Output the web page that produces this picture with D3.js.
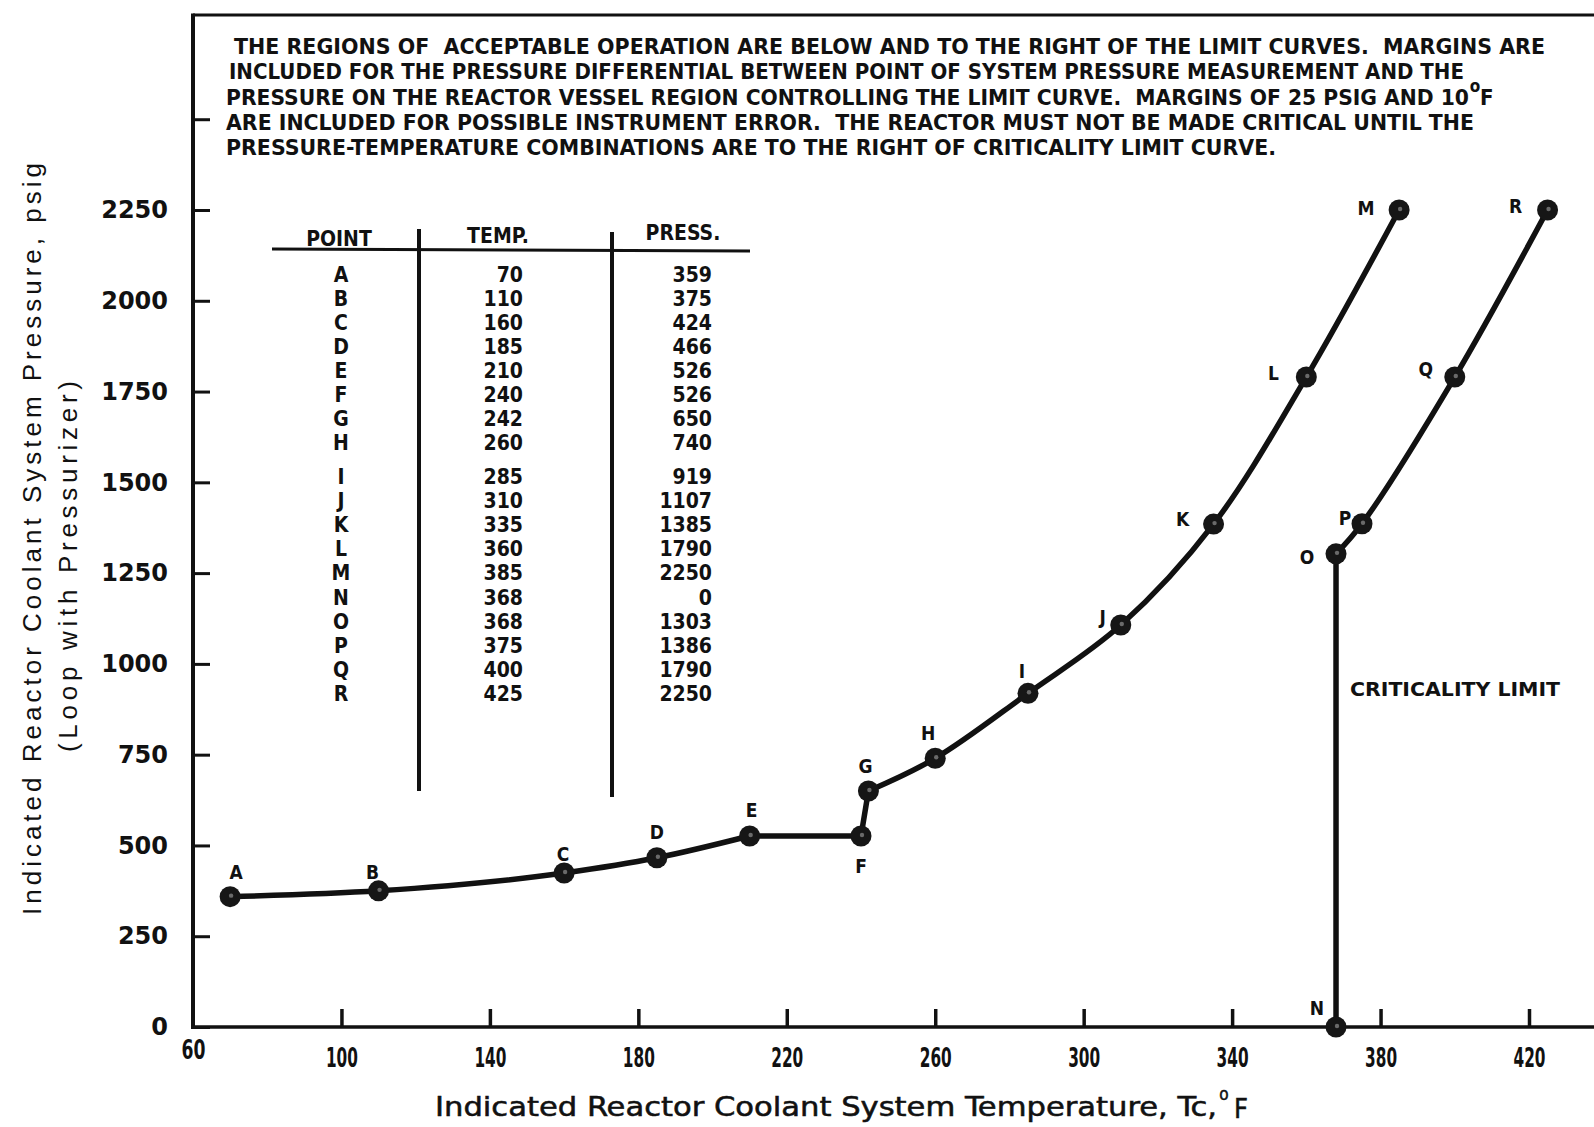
<!DOCTYPE html>
<html>
<head>
<meta charset="utf-8">
<script src="https://cdn.jsdelivr.net/npm/d3@7"></script>
<style>
  html, body { margin: 0; padding: 0; background: #fff; }
  svg { display: block; }
  text { fill: #111; white-space: pre; }
  .cond { font-family: 'DejaVu Sans Condensed', 'DejaVu Sans', sans-serif; font-stretch: condensed; }
</style>
</head>
<body>
<div class="chart-wrapper"></div>
<script>
// point table (as printed on the chart)
const pointNames = ["A","B","C","D","E","F","G","H","I","J","K","L","M","N","O","P","Q","R"];
const temps      = [70,110,160,185,210,240,242,260,285,310,335,360,385,368,368,375,400,425];
const pressures  = [359,375,424,466,526,526,650,740,919,1107,1385,1790,2250,0,1303,1386,1790,2250];

// curve pieces: smooth runs and straight legs
const heatupSmooth1 = ["A","B","C","D","E"];
const heatupStraight = ["E","F","G"];
const heatupSmooth2 = ["G","H","I","J","K","L","M"];
const critStraight = ["N","O"];
const critSmooth = ["O","P","Q","R"];

const xTicks = [60,100,140,180,220,260,300,340,380,420];
const yTicks = [0,250,500,750,1000,1250,1500,1750,2000,2250,2500];
const yTickLabels = ["0","250","500","750","1000","1250","1500","1750","2000","2250",""];

const noteLines = [
  "THE REGIONS OF  ACCEPTABLE OPERATION ARE BELOW AND TO THE RIGHT OF THE LIMIT CURVES.  MARGINS ARE",
  "INCLUDED FOR THE PRESSURE DIFFERENTIAL BETWEEN POINT OF SYSTEM PRESSURE MEASUREMENT AND THE",
  "PRESSURE ON THE REACTOR VESSEL REGION CONTROLLING THE LIMIT CURVE.  MARGINS OF 25 PSIG AND 10",
  "ARE INCLUDED FOR POSSIBLE INSTRUMENT ERROR.  THE REACTOR MUST NOT BE MADE CRITICAL UNTIL THE",
  "PRESSURE-TEMPERATURE COMBINATIONS ARE TO THE RIGHT OF CRITICALITY LIMIT CURVE."
];
const tableHeaders = ["POINT", "TEMP.", "PRESS."];

// lookup
const points = pointNames.map((n, i) => ({ name: n, temp: temps[i], press: pressures[i] }));
const byName = Object.fromEntries(points.map(p => [p.name, p]));

const width = 1594, height = 1127;
const svg = d3.select(".chart-wrapper").append("svg")
  .attr("width", width)
  .attr("height", height);

const x = d3.scaleLinear().domain([60, 420]).range([193, 1529]);
const y = d3.scaleLinear().domain([0, 2250]).range([1027, 210]);
const plotTop = 15;

// frame: top line, left axis, bottom axis
svg.append("line")
  .attr("x1", x(60)).attr("x2", width)
  .attr("y1", plotTop).attr("y2", plotTop)
  .attr("stroke", "#111").attr("stroke-width", 3);
svg.append("line")
  .attr("x1", x(60)).attr("x2", x(60))
  .attr("y1", plotTop - 1.5).attr("y2", y(0) + 2)
  .attr("stroke", "#111").attr("stroke-width", 4);
svg.append("line")
  .attr("x1", x(60) - 2).attr("x2", width)
  .attr("y1", y(0)).attr("y2", y(0))
  .attr("stroke", "#111").attr("stroke-width", 3.5);

// y axis, ticks pointing inward
const yAxis = d3.axisLeft(y)
  .tickValues(yTicks)
  .tickFormat((d, i) => yTickLabels[i])
  .tickSizeInner(-17)
  .tickSizeOuter(0)
  .tickPadding(25);
const gy = svg.append("g")
  .attr("transform", `translate(${x(60)},0)`)
  .call(yAxis);
gy.select(".domain").remove();
gy.selectAll(".tick line").attr("stroke", "#111").attr("stroke-width", 3);
gy.selectAll(".tick text")
  .attr("fill", "#111")
  .style("font-family", "'DejaVu Sans', sans-serif")
  .style("font-weight", "bold")
  .style("font-size", "24px");

// x axis, ticks pointing inward
const xAxis = d3.axisBottom(x)
  .tickValues(xTicks)
  .tickFormat(d3.format("d"))
  .tickSizeInner(-18)
  .tickSizeOuter(0)
  .tickPadding(21);
const gx = svg.append("g")
  .attr("transform", `translate(0,${y(0)})`)
  .call(xAxis);
gx.select(".domain").remove();
gx.selectAll(".tick line")
  .attr("stroke", "#111").attr("stroke-width", 3.5)
  .attr("display", d => d === 60 ? "none" : null);
gx.selectAll(".tick text")
  .attr("class", "cond")
  .attr("fill", "#111")
  .attr("textLength", d => String(d).length === 3 ? 32 : 24)
  .attr("lengthAdjust", "spacingAndGlyphs")
  .attr("dy", d => d === 60 ? "0.4em" : "0.71em")
  .style("font-weight", "bold")
  .style("font-size", "27px");

// axis titles
svg.append("text")
  .attr("class", "cond")
  .attr("x", 435).attr("y", 1116)
  .attr("textLength", 782)
  .attr("lengthAdjust", "spacingAndGlyphs")
  .style("font-size", "27px")
  .style("stroke", "#111").style("stroke-width", 0.5)
  .text("Indicated Reactor Coolant System Temperature, Tc,");
svg.append("text")
  .attr("class", "cond")
  .attr("x", 1224).attr("y", 1100)
  .attr("text-anchor", "middle")
  .style("font-size", "17px")
  .style("stroke", "#111").style("stroke-width", 0.5)
  .text("o");
svg.append("text")
  .attr("class", "cond")
  .attr("x", 1234).attr("y", 1118)
  .style("font-size", "27px")
  .style("stroke", "#111").style("stroke-width", 0.5)
  .text("F");

svg.append("text")
  .attr("transform", "translate(41,915) rotate(-90)")
  .attr("textLength", 752)
  .attr("lengthAdjust", "spacing")
  .style("font-family", "'Liberation Sans', Arial, sans-serif")
  .style("font-size", "26px")
  .text("Indicated Reactor Coolant System Pressure, psig");
svg.append("text")
  .attr("transform", "translate(77,752) rotate(-90)")
  .attr("textLength", 371)
  .attr("lengthAdjust", "spacing")
  .style("font-family", "'Liberation Sans', Arial, sans-serif")
  .style("font-size", "26px")
  .text("(Loop with Pressurizer)");

// note block at top
const noteStarts = [234, 229, 226, 226, 226];
const noteEnds = [1545, 1464, 1469, 1474, 1276];
const noteBase = [54, 79, 105, 130, 155];
svg.append("g").selectAll("text")
  .data(noteLines)
  .join("text")
  .attr("class", "cond")
  .attr("x", (d, i) => noteStarts[i])
  .attr("y", (d, i) => noteBase[i])
  .attr("textLength", (d, i) => noteEnds[i] - noteStarts[i])
  .attr("lengthAdjust", "spacingAndGlyphs")
  .style("font-weight", "bold")
  .style("font-size", "22px")
  .text(d => d);
svg.append("text")
  .attr("class", "cond")
  .attr("x", 1475).attr("y", 92)
  .attr("text-anchor", "middle")
  .style("font-weight", "bold")
  .style("font-size", "17px")
  .text("o");
svg.append("text")
  .attr("class", "cond")
  .attr("x", 1480).attr("y", noteBase[2])
  .style("font-weight", "bold")
  .style("font-size", "22px")
  .text("F");

// point table
const table = svg.append("g").attr("class", "point-table");
const headerX = [339, 498, 683];
const headerY = [246, 243, 240];
table.selectAll(".hdr")
  .data(tableHeaders)
  .join("text")
  .attr("class", "hdr cond")
  .attr("x", (d, i) => headerX[i])
  .attr("y", (d, i) => headerY[i])
  .attr("text-anchor", "middle")
  .style("font-weight", "bold")
  .style("font-size", "21px")
  .text(d => d);
table.append("line")
  .attr("x1", 272).attr("x2", 750).attr("y1", 249).attr("y2", 251)
  .attr("stroke", "#111").attr("stroke-width", 3);
table.append("line")
  .attr("x1", 419).attr("x2", 419).attr("y1", 229).attr("y2", 791)
  .attr("stroke", "#111").attr("stroke-width", 4);
table.append("line")
  .attr("x1", 612).attr("x2", 612).attr("y1", 232).attr("y2", 797)
  .attr("stroke", "#111").attr("stroke-width", 4);

const rowY = i => (i < 8 ? 274.5 + i * 24 : 477 + (i - 8) * 24.1);
const rows = table.selectAll(".row")
  .data(points)
  .join("g")
  .attr("class", "row cond")
  .attr("transform", (d, i) => `translate(0,${rowY(i)})`)
  .style("font-weight", "bold")
  .style("font-size", "21px");
rows.append("text")
  .attr("class", "cond")
  .attr("x", 341).attr("text-anchor", "middle")
  .attr("dominant-baseline", "central")
  .text(d => d.name);
rows.append("text")
  .attr("class", "cond")
  .attr("x", 523).attr("text-anchor", "end")
  .attr("dominant-baseline", "central")
  .text(d => d.temp);
rows.append("text")
  .attr("class", "cond")
  .attr("x", 712).attr("text-anchor", "end")
  .attr("dominant-baseline", "central")
  .text(d => d.press);

// limit curves
const smooth = d3.line()
  .x(d => x(d.temp)).y(d => y(d.press))
  .curve(d3.curveMonotoneX);
const straight = d3.line()
  .x(d => x(d.temp)).y(d => y(d.press));
const critSmoothLine = d3.line()
  .x(d => x(d.temp)).y(d => y(d.press))
  .curve(d3.curveCatmullRom.alpha(0.5));

const curves = svg.append("g")
  .attr("fill", "none")
  .attr("stroke", "#111")
  .attr("stroke-width", 5.5)
  .attr("stroke-linejoin", "round")
  .attr("stroke-linecap", "round");
curves.append("path").attr("d", smooth(heatupSmooth1.map(n => byName[n])));
curves.append("path").attr("d", straight(heatupStraight.map(n => byName[n])));
curves.append("path").attr("d", critSmoothLine(heatupSmooth2.map(n => byName[n])));
curves.append("path").attr("d", straight(critStraight.map(n => byName[n])));
curves.append("path").attr("d", critSmoothLine(critSmooth.map(n => byName[n])));

// markers
const markers = svg.append("g");
markers.selectAll("circle.pt")
  .data(points)
  .join("circle")
  .attr("class", "pt")
  .attr("cx", d => x(d.temp))
  .attr("cy", d => y(d.press))
  .attr("r", 10.5)
  .attr("fill", "#161616");
markers.selectAll("circle.spk")
  .data(points)
  .join("circle")
  .attr("class", "spk")
  .attr("cx", d => x(d.temp) + 1)
  .attr("cy", d => y(d.press) - 1)
  .attr("r", 2.2)
  .attr("fill", "#6a6a6a");

// point letters next to markers
const labelOffsets = {
  A: [6, -25], B: [-6, -19], C: [-1, -19], D: [0, -26], E: [2, -26],
  F: [0, 30], G: [-3, -25], H: [-7, -25], I: [-6, -22], J: [-18, -8],
  K: [-31, -5], L: [-33, -4], M: [-33, -2], N: [-19, -19], O: [-29, 3],
  P: [-17, -6], Q: [-29, -8], R: [-32, -4]
};
svg.append("g").selectAll("text")
  .data(points)
  .join("text")
  .attr("class", "cond")
  .attr("x", d => x(d.temp) + labelOffsets[d.name][0])
  .attr("y", d => y(d.press) + labelOffsets[d.name][1])
  .attr("text-anchor", "middle")
  .attr("dominant-baseline", "central")
  .style("font-weight", "bold")
  .style("font-size", "19px")
  .text(d => d.name);

// criticality label
svg.append("text")
  .attr("class", "cond")
  .attr("x", 1350).attr("y", 696)
  .attr("textLength", 210)
  .attr("lengthAdjust", "spacingAndGlyphs")
  .style("font-weight", "bold")
  .style("font-size", "20px")
  .text("CRITICALITY LIMIT");
</script>
</body>
</html>
